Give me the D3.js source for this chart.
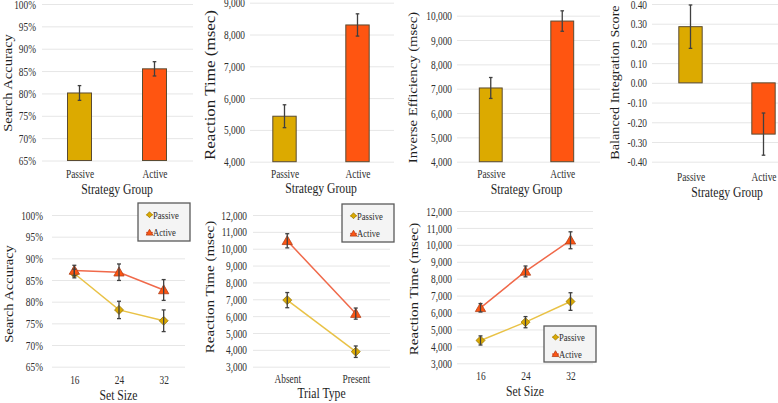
<!DOCTYPE html>
<html><head><meta charset="utf-8">
<script src="https://cdn.jsdelivr.net/npm/d3@7"></script>
<style>body{margin:0;background:#fff}svg{display:block}text{font-family:"Liberation Serif","DejaVu Serif",serif}</style>
</head><body><svg id="c" width="778" height="403"></svg>
<script>
// ---------- data ----------
const groups = ["Passive", "Active"];
const accuracyMeans = [80.1, 85.5];
const accuracyErr = [1.65, 1.6];
const rtMeans = [5430, 8300];
const rtErr = [360, 350];
const ieMeans = [7030, 9780];
const ieErr = [430, 420];
const bisMeans = [0.285, -0.26];
const bisErr = [0.11, 0.107];

const setSizes = ["16", "24", "32"];
const accSetPassive = [86.5, 78.1, 75.6];
const accSetPassiveErr = [1.0, 2.0, 2.5];
const accSetActive = [87.2, 86.8, 82.7];
const accSetActiveErr = [1.2, 1.9, 2.4];

const trialTypes = ["Absent", "Present"];
const rtTrialPassive = [6950, 3890];
const rtTrialPassiveErr = [450, 340];
const rtTrialActive = [10470, 6150];
const rtTrialActiveErr = [420, 330];

const rtSetPassive = [4350, 5430, 6650];
const rtSetPassiveErr = [270, 330, 520];
const rtSetActive = [6280, 8430, 10270];
const rtSetActiveErr = [250, 320, 500];

const accTicks = [65, 70, 75, 80, 85, 90, 95, 100];
const rtTopTicks = [4000, 5000, 6000, 7000, 8000, 9000];
const ieTicks = [4000, 5000, 6000, 7000, 8000, 9000, 10000];
const bisTicks = [-0.4, -0.3, -0.2, -0.1, 0, 0.1, 0.2, 0.3, 0.4];
const rtBottomTicks = [3000, 4000, 5000, 6000, 7000, 8000, 9000, 10000, 11000, 12000];

// ---------- style ----------
const FONT = '"Liberation Serif","DejaVu Serif",serif';
const SX = 0.78;
const COL = {
  passiveFill: "#dcaa00", activeFill: "#ff5511",
  passiveLine: "#e9c246", activeLine: "#f0694a",
  passiveMarkStroke: "#9a7a10", activeMarkStroke: "#b0401a",
  barStroke: "#5a4b32", err: "#404040", grid: "#e6e6e6",
  tick: "#2e2e2e", title: "#1e1e1e"
};
const pctFmt = v => v + "%";
const thouFmt = d3.format(",");
const bisFmt = v => (Math.abs(v) < 1e-9 ? 0 : v).toFixed(2);

const svg = d3.select("#c");

function hText(x, y, str, size, anchor = "middle") {
  return svg.append("text")
    .attr("transform", `translate(${x},${y}) scale(${SX},1)`)
    .attr("font-family", FONT)
    .attr("text-anchor", anchor).attr("font-size", size).attr("fill", COL.title).text(str);
}
function vText(x, y, str, size) {
  return svg.append("text")
    .attr("transform", `translate(${x},${y}) rotate(-90) scale(1,0.85)`)
    .attr("font-family", FONT)
    .attr("text-anchor", "middle").attr("dy", "0.35em").attr("font-size", size)
    .attr("fill", COL.title).text(str);
}

function yAxis(y, ticks, fmt, c) {
  const ax = d3.axisLeft(y).tickValues(ticks).tickFormat(fmt)
    .tickSize(-(c.gx1 - c.gx0)).tickPadding(0);
  const a = svg.append("g").attr("transform", `translate(${c.gx0},0)`).call(ax);
  a.attr("font-family", null).attr("font-size", null);
  a.select(".domain").remove();
  a.selectAll(".tick line").attr("stroke", COL.grid).attr("stroke-width", 1);
  a.selectAll(".tick text").attr("x", null).attr("dy", "0.34em")
    .attr("transform", `translate(${c.labelRight - c.gx0},0) scale(${SX},1)`)
    .attr("font-family", FONT)
    .attr("font-size", 12).attr("fill", COL.tick).attr("text-anchor", "end");
}
function xAxis(x, c) {
  const ax = d3.axisBottom(x).tickSize(0).tickPadding(0);
  const a = svg.append("g").attr("transform", `translate(0,${c.xLabelY})`).call(ax);
  a.attr("font-family", null).attr("font-size", null);
  a.select(".domain").remove();
  a.selectAll(".tick text").attr("y", null).attr("dy", null)
    .attr("transform", `scale(${SX},1)`)
    .attr("font-family", FONT)
    .attr("font-size", 12).attr("fill", COL.tick).attr("text-anchor", "middle");
}
function errBar(x, yTop, yBot, cap) {
  const g = svg.append("g").attr("stroke", COL.err).attr("stroke-width", 1.3);
  g.append("line").attr("x1", x).attr("x2", x).attr("y1", yTop).attr("y2", yBot);
  g.append("line").attr("x1", x - cap).attr("x2", x + cap).attr("y1", yTop).attr("y2", yTop);
  g.append("line").attr("x1", x - cap).attr("x2", x + cap).attr("y1", yBot).attr("y2", yBot);
}

function barPanel(c, means, errs, ticks, fmt, title) {
  const x = d3.scaleBand().domain(groups).range([c.x0, c.x1]);
  const y = d3.scaleLinear().domain([ticks[0], ticks[ticks.length - 1]]).range([c.yBot, c.yTop]);
  yAxis(y, ticks, fmt, c);
  const base = ticks[0] > 0 ? ticks[0] : 0;
  const bw = x.bandwidth() * 0.32;
  groups.forEach((g, i) => {
    const cx = x(g) + x.bandwidth() / 2;
    const y1 = y(means[i]), y0 = y(base);
    svg.append("rect").attr("x", cx - bw / 2).attr("width", bw)
      .attr("y", Math.min(y0, y1)).attr("height", Math.abs(y0 - y1))
      .attr("fill", i === 0 ? COL.passiveFill : COL.activeFill)
      .attr("stroke", COL.barStroke).attr("stroke-width", 1);
  });
  groups.forEach((g, i) => {
    const cx = x(g) + x.bandwidth() / 2;
    errBar(cx, y(means[i] + errs[i]), y(means[i] - errs[i]), 1.8);
  });
  xAxis(d3.scalePoint().domain(groups).range([c.x0, c.x1]).padding(0.5), c);
  hText((c.x0 + c.x1) / 2, c.xTitleY, "Strategy Group", 15);
  vText(c.tx, c.ty, title, c.ts);
}

const diamond = d3.symbol().type(d3.symbolSquare);
const triangle = d3.symbol().type(d3.symbolTriangle);
function marker(kind, cx, cy, scale) {
  if (kind === 0) {
    svg.append("path").attr("d", diamond.size(40 * scale * scale)())
      .attr("transform", `translate(${cx},${cy}) rotate(45)`)
      .attr("fill", COL.passiveFill).attr("stroke", COL.passiveMarkStroke).attr("stroke-width", 0.8);
  } else {
    svg.append("path").attr("d", triangle.size(46 * scale * scale)())
      .attr("transform", `translate(${cx},${cy + 0.8 * scale})`)
      .attr("fill", COL.activeFill).attr("stroke", COL.activeMarkStroke).attr("stroke-width", 0.8);
  }
}

function linePanel(c, cats, pM, pE, aM, aE, ticks, fmt, title, xTitle) {
  const x = d3.scalePoint().domain(cats).range([c.x0, c.x1]).padding(0.5);
  const y = d3.scaleLinear().domain([ticks[0], ticks[ticks.length - 1]]).range([c.yBot, c.yTop]);
  yAxis(y, ticks, fmt, c);
  const line = d3.line().x(d => x(d.c)).y(d => y(d.v));
  const series = [
    { m: pM, e: pE, col: COL.passiveLine, k: 0 },
    { m: aM, e: aE, col: COL.activeLine, k: 1 }
  ];
  series.forEach(s => {
    const pts = cats.map((cc, i) => ({ c: cc, v: s.m[i] }));
    svg.append("path").attr("d", line(pts)).attr("fill", "none")
      .attr("stroke", s.col).attr("stroke-width", 1.5);
  });
  series.forEach(s => {
    cats.forEach((cc, i) => marker(s.k, x(cc), y(s.m[i]), 1));
  });
  series.forEach(s => {
    cats.forEach((cc, i) => errBar(x(cc), y(s.m[i] + s.e[i]), y(s.m[i] - s.e[i]), 2));
  });
  xAxis(x, c);
  hText((c.gx0 + c.gx1) / 2, c.xTitleY, xTitle, 15);
  vText(c.tx, c.ty, title, c.ts);
  // legend
  const L = c.leg;
  svg.append("rect").attr("x", L.x).attr("y", L.y).attr("width", L.w).attr("height", L.h)
    .attr("fill", "#f4f4f4").attr("stroke", "#5a5a5a").attr("stroke-width", 1.3);
  groups.forEach((g, i) => {
    const yy = L.y + (i === 0 ? L.h * 0.31 : L.h * 0.78);
    svg.append("line").attr("x1", L.x + 8).attr("x2", L.x + 15).attr("y1", yy).attr("y2", yy)
      .attr("stroke", i === 0 ? COL.passiveLine : COL.activeLine).attr("stroke-width", 1.5);
    marker(i, L.x + 11.5, yy, 0.65);
    svg.append("text").attr("transform", `translate(${L.x + 15},${yy}) scale(${SX},1)`)
      .attr("font-family", FONT)
      .attr("dy", "0.34em").attr("font-size", 11).attr("fill", COL.tick).text(g);
  });
}

// ---------- top row: bar panels ----------
barPanel({ x0: 42, x1: 192, gx0: 42, gx1: 193, yTop: 4, yBot: 160.5, labelRight: 36,
  xLabelY: 178, xTitleY: 194, tx: 8, ty: 83, ts: 14.5 },
  accuracyMeans, accuracyErr, accTicks, pctFmt, "Search Accuracy");
barPanel({ x0: 248, x1: 394, gx0: 250, gx1: 394, yTop: 2.7, yBot: 161.7, labelRight: 245,
  xLabelY: 178, xTitleY: 193, tx: 210, ty: 85, ts: 17 },
  rtMeans, rtErr, rtTopTicks, thouFmt, "Reaction Time (msec)");
barPanel({ x0: 455, x1: 598, gx0: 457, gx1: 600, yTop: 15.7, yBot: 161.7, labelRight: 452,
  xLabelY: 178, xTitleY: 194, tx: 413, ty: 87.5, ts: 14.7 },
  ieMeans, ieErr, ieTicks, thouFmt, "Inverse Efficiency (msec)");
barPanel({ x0: 654, x1: 800, gx0: 652, gx1: 778, yTop: 4, yBot: 161.7, labelRight: 647,
  xLabelY: 181, xTitleY: 197, tx: 615, ty: 82.5, ts: 14.2 },
  bisMeans, bisErr, bisTicks, bisFmt, "Balanced Integration Score");

// ---------- bottom row: line panels ----------
linePanel({ x0: 52, x1: 186, gx0: 52, gx1: 185, yTop: 215, yBot: 366.7, labelRight: 43,
  xLabelY: 384, xTitleY: 400, tx: 9, ty: 294, ts: 14.5,
  leg: { x: 138, y: 203, w: 52, h: 38 } },
  setSizes, accSetPassive, accSetPassiveErr, accSetActive, accSetActiveErr,
  accTicks, pctFmt, "Search Accuracy", "Set Size");
linePanel({ x0: 253, x1: 390, gx0: 253, gx1: 390, yTop: 215, yBot: 366.7, labelRight: 247,
  xLabelY: 383, xTitleY: 398, tx: 210, ty: 287, ts: 15,
  leg: { x: 342, y: 204, w: 52, h: 38 } },
  trialTypes, rtTrialPassive, rtTrialPassiveErr, rtTrialActive, rtTrialActiveErr,
  rtBottomTicks, thouFmt, "Reaction Time (msec)", "Trial Type");
linePanel({ x0: 458, x1: 593, gx0: 457, gx1: 593, yTop: 211, yBot: 363.3, labelRight: 452,
  xLabelY: 380, xTitleY: 396, tx: 414, ty: 289, ts: 15,
  leg: { x: 544, y: 326, w: 52, h: 36 } },
  setSizes, rtSetPassive, rtSetPassiveErr, rtSetActive, rtSetActiveErr,
  rtBottomTicks, thouFmt, "Reaction Time (msec)", "Set Size");
</script></body></html>
